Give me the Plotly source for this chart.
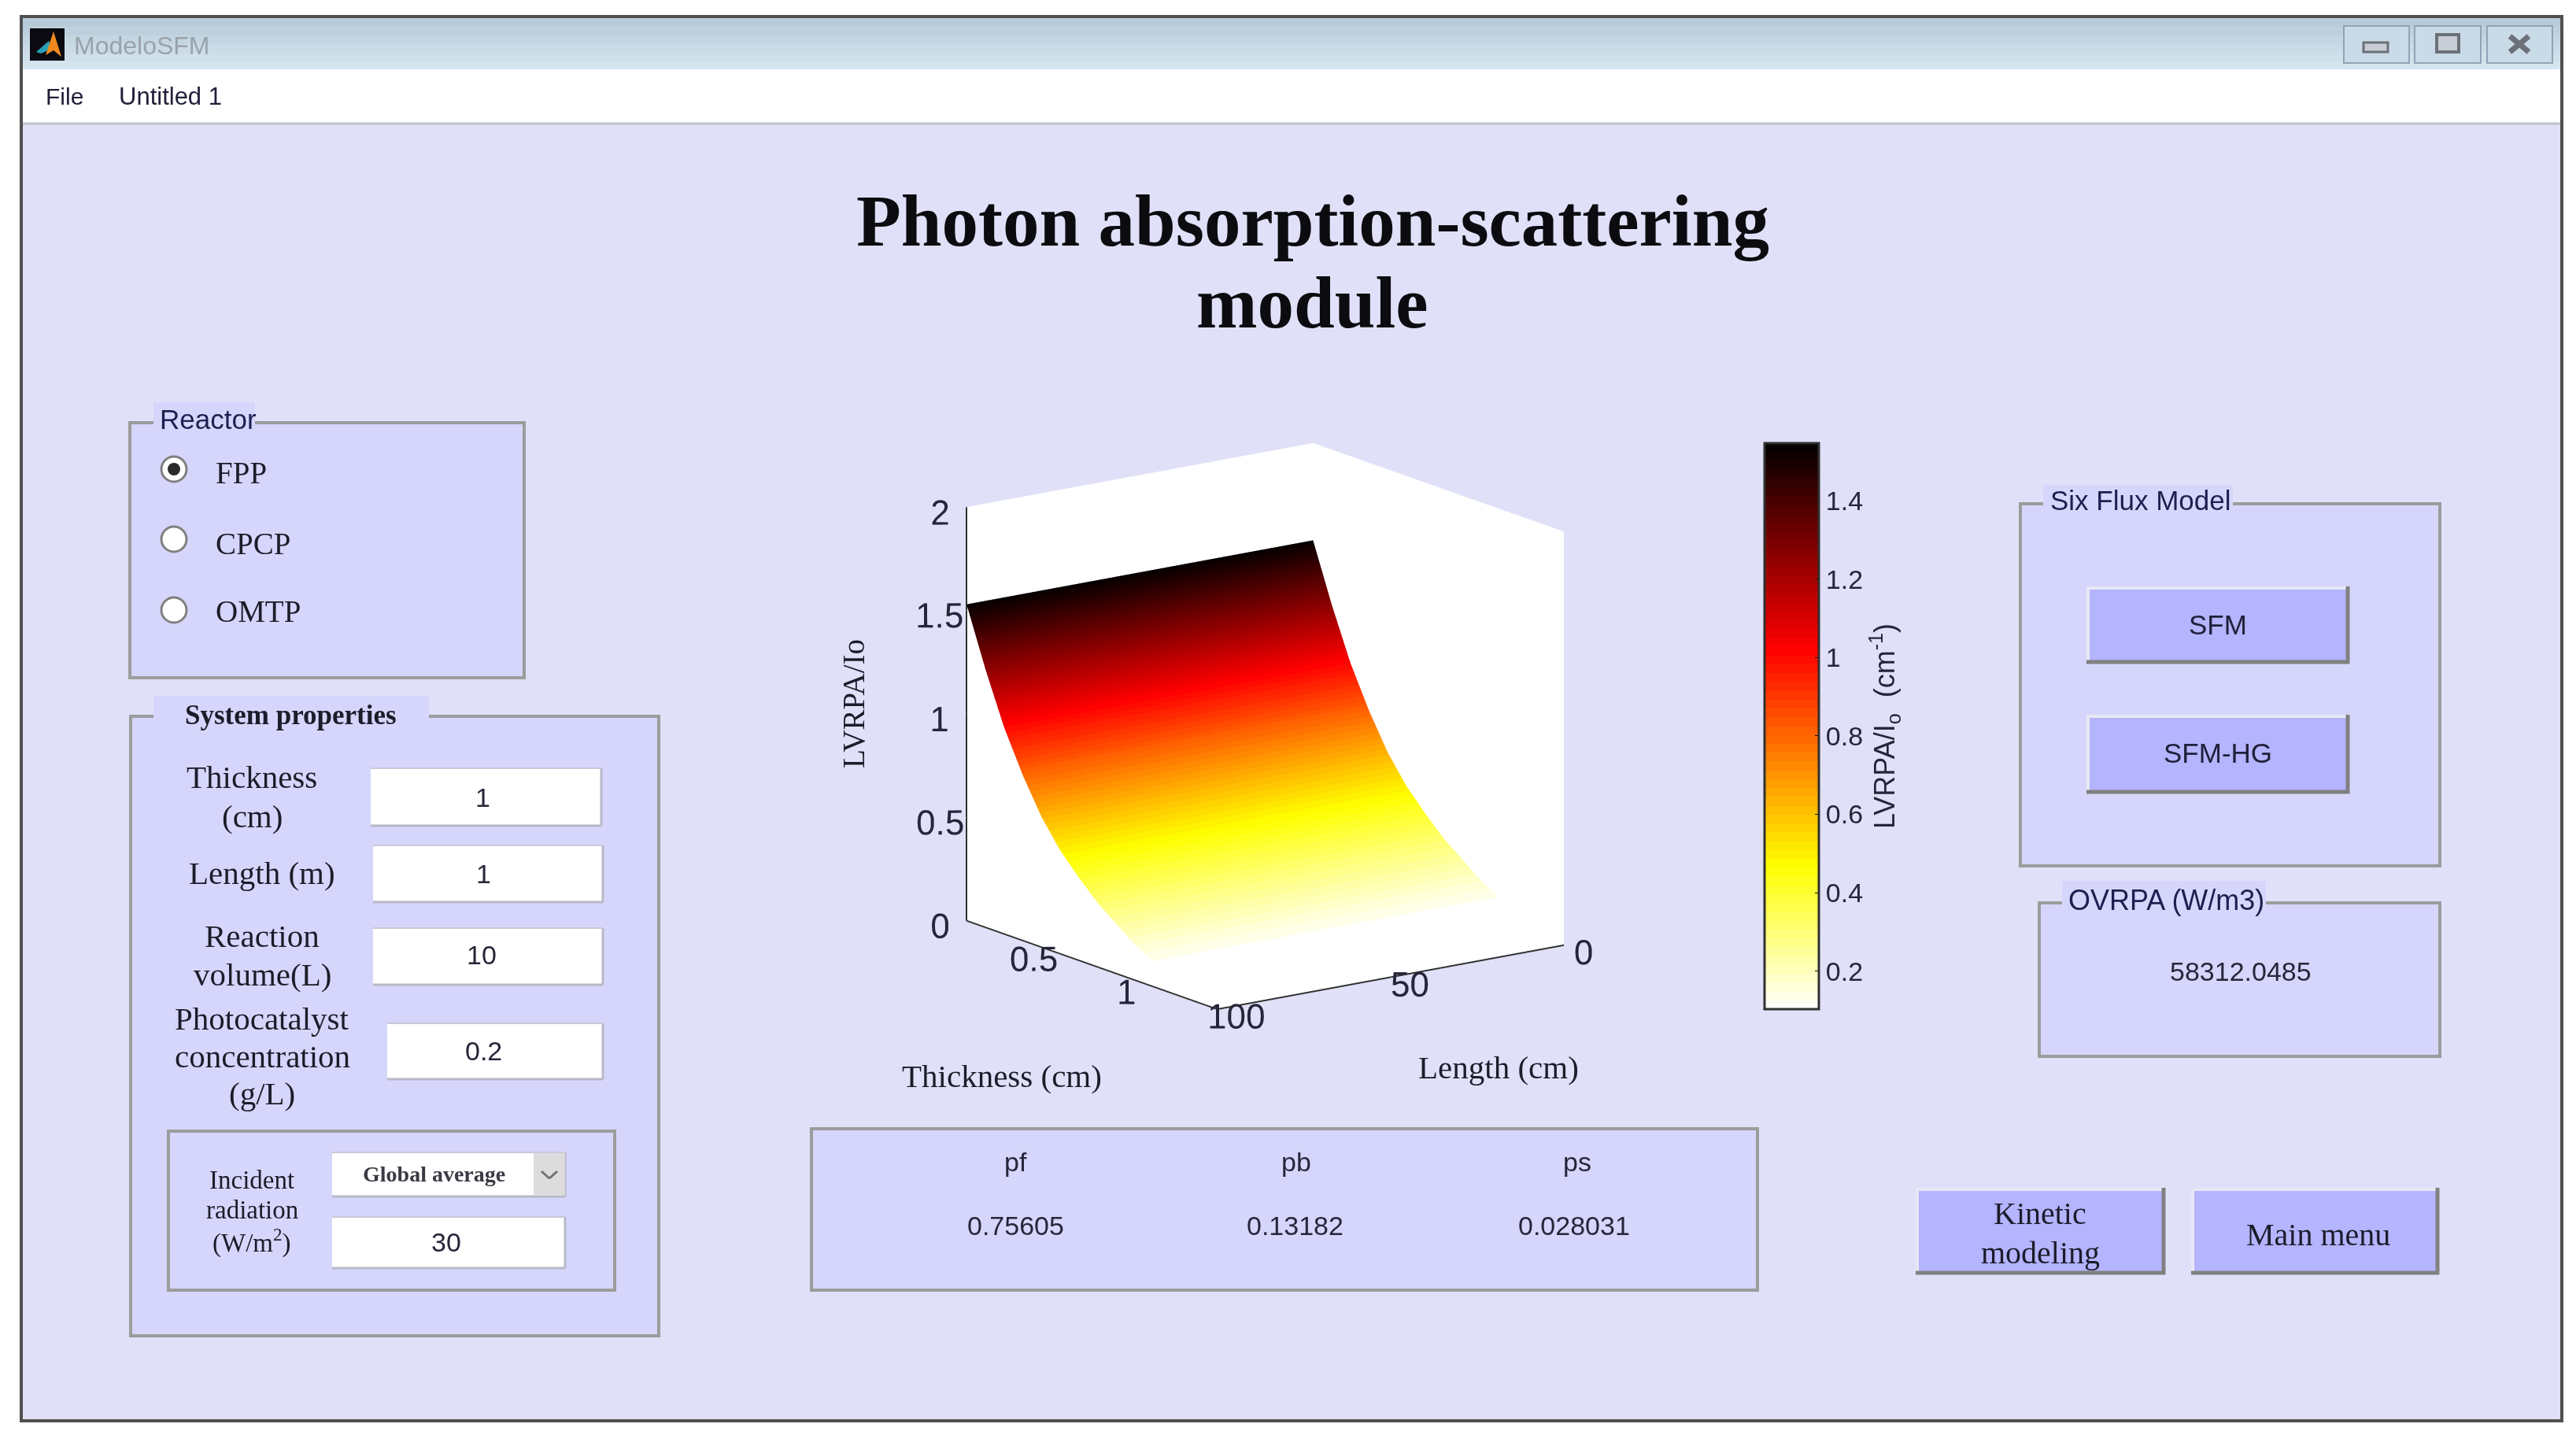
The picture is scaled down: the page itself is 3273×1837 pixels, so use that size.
import plotly.graph_objects as go

OFF = 8  # browser body margin
W, H = 3273 - 2 * OFF, 1837 - 2 * OFF

# Surface
thickness_cm = [0, 0.1, 0.2, 0.3, 0.4, 0.5, 0.6, 0.7, 0.8, 0.9, 1.0]
length_cm = [0, 100]
lvrpa = [1.53, 1.25, 1.00, 0.80, 0.63, 0.50, 0.40, 0.31, 0.24, 0.17, 0.12]

thickness_ticks = [0, 0.5, 1]
length_ticks = [0, 50, 100]
z_ticks = [0, 0.5, 1, 1.5, 2]
z_tick_labels = ["0", "0.5", "1", "1.5", "2"]
cbar_ticks = [0.2, 0.4, 0.6, 0.8, 1, 1.2, 1.4]
cbar_labels = ["0.2", "0.4", "0.6", "0.8", "1", "1.2", "1.4"]

reactor_options = ["FPP", "CPCP", "OMTP"]
result_names = ["pf", "pb", "ps"]
result_values = ["0.75605", "0.13182", "0.028031"]

SERIF = "Liberation Serif"
SANS = "Liberation Sans"
BG = "#e0e0f8"
PANEL = "#d6d6fc"
BUTTON = "#b4b4ff"
EDGE = "#9c9c9c"
INK = "#1c1c2a"


def hot_scale(n=64):
    # reversed matlab hot, stepped like the original colormap
    stops = []
    for i in range(n):
        f = (n - i - 0.5) / n
        r = min(f / 0.365, 1)
        g = min(max((f - 0.365) / 0.381, 0), 1)
        b = min(max((f - 0.746) / 0.254, 0), 1)
        col = f"rgb({r*255:.0f},{g*255:.0f},{b*255:.0f})"
        stops.append([i / n, col])
        stops.append([(i + 1) / n, col])
    return stops


shapes = []
notes = []


def px(x):
    return (x - OFF) / W


def py(y):
    return 1 - (y - OFF) / H


def rect(x0, y0, x1, y1, fill=None, line=None, lw=0):
    shapes.append(dict(type="rect", layer="below", xref="paper", yref="paper",
                       x0=px(x0), x1=px(x1), y0=py(y0), y1=py(y1),
                       fillcolor=fill or "rgba(0,0,0,0)",
                       line=dict(color=line or "rgba(0,0,0,0)", width=lw)))


def seg(x0, y0, x1, y1, color, lw=3):
    shapes.append(dict(type="line", layer="below", xref="paper", yref="paper",
                       x0=px(x0), x1=px(x1), y0=py(y0), y1=py(y1),
                       line=dict(color=color, width=lw)))


def circle(cx, cy, r, fill, line=None, lw=0):
    shapes.append(dict(type="circle", layer="below", xref="paper", yref="paper",
                       x0=px(cx - r), x1=px(cx + r), y0=py(cy - r), y1=py(cy + r),
                       fillcolor=fill, line=dict(color=line or fill, width=lw)))


def poly(points, fill):
    d = "M " + " L ".join(f"{px(x):.5f},{py(y):.5f}" for x, y in points) + " Z"
    shapes.append(dict(type="path", layer="below", xref="paper", yref="paper", path=d,
                       fillcolor=fill, line=dict(width=0)))


def text(x, y, s, size, family=SERIF, color=INK, anchor="center", angle=0, bold=False):
    if bold:
        s = f"<b>{s}</b>"
    notes.append(dict(x=px(x), y=py(y), xref="paper", yref="paper", text=s,
                      showarrow=False, xanchor=anchor, yanchor="middle", textangle=angle,
                      font=dict(size=size, family=family, color=color)))


def panel(x0, y0, x1, y1):
    rect(x0, y0, x1, y1, fill=PANEL, line=EDGE, lw=4)


def legend_label(x0, y0, x1, y1):
    rect(x0, y0, x1, y1, fill=PANEL)


def button(x0, y0, x1, y1):
    rect(x0, y0, x1, y1, fill=BUTTON)
    seg(x0, y0 + 2, x1, y0 + 2, "#e8e8f4", 4)
    seg(x0 + 2, y0, x0 + 2, y1, "#e8e8f4", 4)
    seg(x0, y1 - 2, x1, y1 - 2, "#808080", 5)
    seg(x1 - 2, y0, x1 - 2, y1, "#808080", 5)


def field(x0, y0, x1, y1):
    rect(x0, y0, x1, y1, fill="white")
    seg(x0, y1, x1, y1, "#b8b8c8", 3)
    seg(x1, y0, x1, y1, "#b8b8c8", 3)
    seg(x0, y0, x1, y0, "#c8c8d8", 2)


# window
rect(27, 21, 3255, 1805, fill=BG, line="#505050", lw=4)
bar_cols = ["#b8cbd9", "#bed0dd", "#c4d6e2", "#cadbe7", "#d0e0eb", "#d5e5f0"]
for i, c in enumerate(bar_cols):
    rect(29, 23 + i * 11, 3253, 34 + i * 11, fill=c)
rect(29, 88, 3253, 156, fill="white")
seg(29, 157, 3253, 157, "#c0c0c8", 3)

# window icon
rect(38, 36, 82, 77, fill="#0a0a10")
poly([(46, 66), (62, 52), (66, 62), (52, 68)], "#2aa0b8")
poly([(58, 70), (68, 40), (78, 72), (68, 64)], "#f08a1c")

text(92, 58, "ModeloSFM", 32, SANS, "#9aa3ab", "left")
text(56, 123, "File", 30, SANS, "#20203a", "left")
text(149, 123, "Untitled 1", 31, SANS, "#20203a", "left")

# window buttons
for x0, x1 in [(2978, 3061), (3068, 3152), (3160, 3243)]:
    rect(x0, 33, x1, 80, fill="#cadbe8", line="#90a4b6", lw=2)
rect(3003, 54, 3034, 66, fill="#c8ccd4", line="#6c7078", lw=3)
rect(3096, 44, 3124, 66, fill="#c8ccd4", line="#6c7078", lw=4)
seg(3189, 46, 3213, 66, "#6c7078", 7)
seg(3213, 46, 3189, 66, "#6c7078", 7)

# title
text(1668, 280, "Photon absorption-scattering", 93, SERIF, "#0c0c10", bold=True)
text(1668, 384, "module", 93, SERIF, "#0c0c10", bold=True)

# reactor box
panel(165, 537, 666, 861)
legend_label(195, 511, 324, 551)
text(201, 533, "Reactor", 35, SANS, "#1c2050", "left")
radio_y = [596, 685, 775]
label_y = [600, 691, 777]
for i, name in enumerate(reactor_options):
    circle(221, radio_y[i], 16, "white", "#808080", 3)
    if i == 0:
        circle(221, radio_y[i], 8, "#2a2a2a")
    text(272, label_y[i], name, 39, anchor="left")

# system properties box
panel(166, 910, 837, 1697)
legend_label(195, 884, 545, 918)
text(369, 908, "System properties", 35, bold=True)
text(320, 987, "Thickness", 41)
text(320, 1037, "(cm)", 41)
text(333, 1109, "Length (m)", 41)
text(333, 1189, "Reaction", 41)
text(333, 1238, "volume(L)", 41)
text(333, 1294, "Photocatalyst", 41)
text(333, 1342, "concentration", 41)
text(333, 1389, "(g/L)", 41)
field(471, 976, 764, 1049)
text(613, 1013, "1", 34, SANS, "#26263a")
field(474, 1074, 766, 1146)
text(614, 1110, "1", 34, SANS, "#26263a")
field(474, 1179, 766, 1251)
text(612, 1213, "10", 34, SANS, "#26263a")
field(492, 1300, 766, 1371)
text(614, 1335, "0.2", 34, SANS, "#26263a")

rect(214, 1437, 781, 1639, line=EDGE, lw=4)
text(320, 1499, "Incident", 33)
text(320, 1537, "radiation", 33)
text(320, 1576, "(W/m<sup>2</sup>)", 33)
field(422, 1464, 718, 1520)
rect(678, 1465, 718, 1519, fill="#dcdcdc")
seg(688, 1488, 698, 1497, "#707070", 3)
seg(698, 1497, 708, 1488, "#707070", 3)
text(551, 1491, "Global average", 28, bold=True, color="#3a3a44")
field(422, 1546, 718, 1611)
text(567, 1578, "30", 34, SANS, "#26263a")

# results box under the plot
panel(1031, 1434, 2233, 1639)
for i, x in enumerate([1290, 1647, 2004]):
    text(x, 1476, result_names[i], 34, SANS, "#26263a")
for i, x in enumerate([1290, 1645, 2000]):
    text(x, 1557, result_values[i], 34, SANS, "#26263a")

# six flux box
panel(2567, 640, 3100, 1100)
legend_label(2596, 616, 2837, 652)
text(2603, 636, "Six Flux Model", 35, SANS, "#1c2050", "left")
button(2651, 745, 2985, 843)
text(2818, 793, "SFM", 35, SANS, "#20203a")
button(2651, 908, 2985, 1008)
text(2818, 956, "SFM-HG", 35, SANS, "#20203a")

# ovrpa box
panel(2591, 1147, 3100, 1342)
legend_label(2620, 1119, 2879, 1160)
text(2626, 1143, "OVRPA (W/m3)", 36, SANS, "#1c2050", "left")
text(2847, 1234, "58312.0485", 34, SANS, "#26263a")

button(2434, 1509, 2751, 1619)
text(2592, 1541, "Kinetic", 40)
text(2592, 1591, "modeling", 40)
button(2784, 1509, 3099, 1619)
text(2945, 1568, "Main menu", 40)

# axis titles of the 3d plot
text(1084, 894, "LVRPA/Io", 39, angle=-90)
text(1273, 1367, "Thickness (cm)", 41)
text(1904, 1356, "Length (cm)", 41)

surface = go.Surface(
    x=thickness_cm,
    y=length_cm,
    z=[lvrpa, lvrpa],
    colorscale=hot_scale(),
    cmin=0.103,
    cmax=1.547,
    hoverinfo="skip",
    lighting=dict(ambient=1, diffuse=0, specular=0, roughness=1, fresnel=0),
    colorbar=dict(
        x=px(2242),
        xanchor="left",
        y=py(563),
        yanchor="top",
        lenmode="pixels",
        len=719,
        thicknessmode="pixels",
        thickness=69,
        xpad=0,
        ypad=0,
        outlinecolor="#303030",
        outlinewidth=3,
        ticks="inside",
        ticklen=6,
        tickcolor="#101010",
        tickvals=cbar_ticks,
        ticktext=cbar_labels,
        tickfont=dict(size=34, family=SANS, color="#26263a"),
        title=dict(text="LVRPA/I<sub>o</sub>  (cm<sup>-1</sup>)", side="right",
                   font=dict(size=36, family=SANS, color="#26263a")),
    ),
)


def axis(rng, vals, labels):
    return dict(
        range=rng,
        tickvals=vals,
        ticktext=labels,
        title=dict(text=""),
        showgrid=False,
        zeroline=False,
        showspikes=False,
        showbackground=True,
        backgroundcolor="white",
        showline=True,
        linecolor="#303030",
        linewidth=4,
        ticks="outside",
        ticklen=24,
        tickcolor=BG,
        tickwidth=1,
        tickangle=0,
        tickfont=dict(size=23, family=SANS, color="#26263a"),
    )


fig = go.Figure(surface)
fig.update_layout(
    width=W,
    height=H,
    margin=dict(l=0, r=0, t=0, b=0),
    paper_bgcolor="white",
    shapes=shapes,
    annotations=notes,
    scene=dict(
        domain=dict(x=[px(1064), px(2151)], y=[py(1466), py(379)]),
        aspectmode="cube",
        camera=dict(
            projection=dict(type="orthographic"),
            eye=dict(x=1.558, y=-1.127, z=0.508),
            up=dict(x=0, y=0, z=1),
        ),
        xaxis=axis([0, 1.34], thickness_ticks, ["0", "0.5", "1"]),
        yaxis=axis([100, 0], length_ticks, ["0", "50", "100"]),
        zaxis=axis([0, 2], z_ticks, z_tick_labels),
    ),
)

fig.write_html("out.html")
